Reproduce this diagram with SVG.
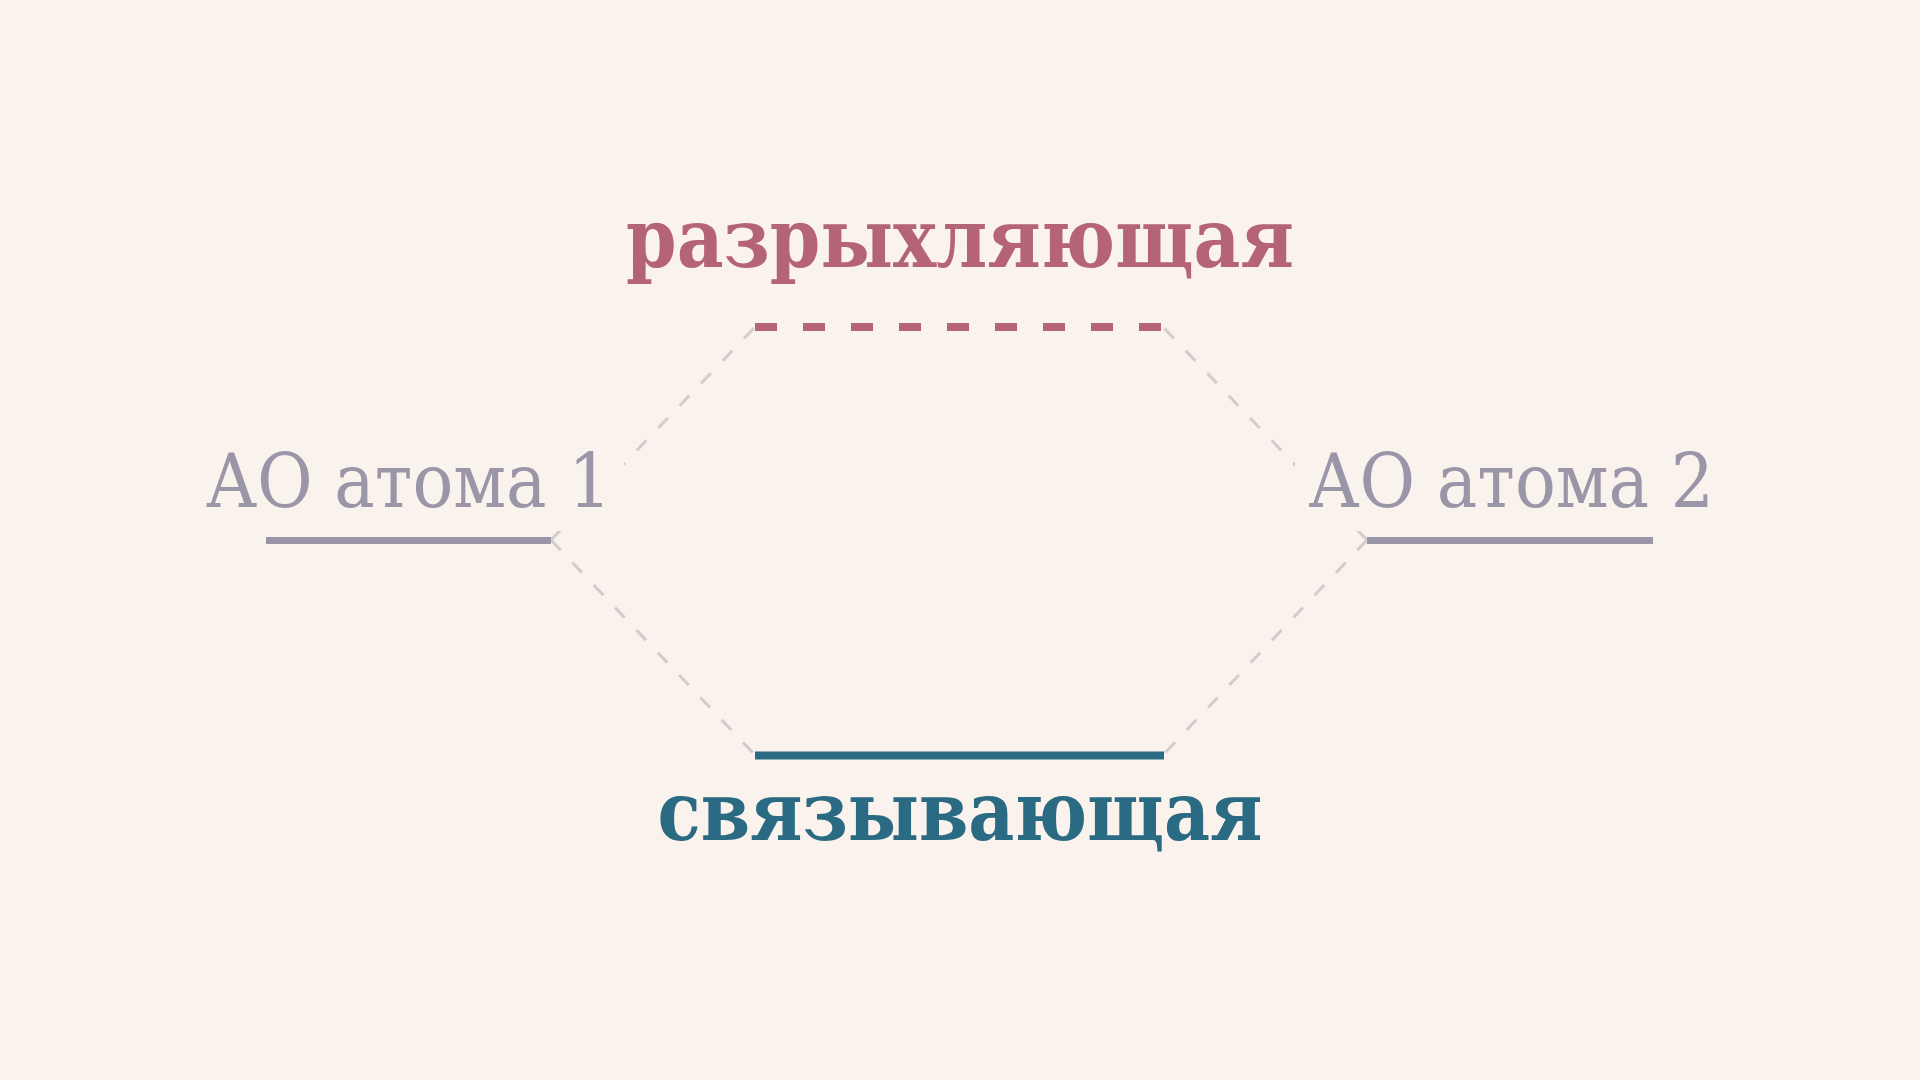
<svg xmlns="http://www.w3.org/2000/svg" width="1920" height="1080" viewBox="0 0 1920 1080">
<style>
.bg{fill:#faf3ed}
.conn{stroke:#d4cbcc;stroke-width:3;stroke-dasharray:14 17;fill:none}
.ao{stroke:#9a96a8;stroke-width:7}
.aotxt{font-family:'DejaVu Serif Condensed','DejaVu Serif',serif;font-stretch:condensed;font-size:75.5px;fill:#9a96a8;text-anchor:middle}
.motxt{font-family:'DejaVu Serif Condensed','DejaVu Serif',serif;font-stretch:condensed;font-weight:bold;font-size:83px;text-anchor:middle}
</style>
<rect class="bg" x="0" y="0" width="1920" height="1080"/>
<g id="connectors">
<line class="conn" x1="551" y1="540" x2="755" y2="327"/>
<line class="conn" x1="551" y1="540" x2="755" y2="755"/>
<line class="conn" x1="1367" y1="540" x2="1163" y2="327"/>
<line class="conn" x1="1367" y1="540" x2="1163" y2="755"/>
</g>
<g id="ao1">
<rect class="bg" x="192" y="445" width="432" height="86"/>
<text class="aotxt" x="408.5" y="507">АО атома 1</text>
<line class="ao" x1="266" y1="540.5" x2="551" y2="540.5"/>
</g>
<g id="ao2">
<rect class="bg" x="1295" y="445" width="432" height="86"/>
<text class="aotxt" x="1511" y="507">АО атома 2</text>
<line class="ao" x1="1367" y1="540.5" x2="1653" y2="540.5"/>
</g>
<g id="antibonding">
<text class="motxt" x="960" y="267" fill="#b56476" textLength="668" lengthAdjust="spacingAndGlyphs">разрыхляющая</text>
<line x1="755" y1="327" x2="1163" y2="327" stroke="#b56476" stroke-width="8" stroke-dasharray="22 26"/>
</g>
<g id="bonding">
<line x1="755" y1="755.5" x2="1164" y2="755.5" stroke="#2a6a82" stroke-width="8"/>
<text class="motxt" x="960" y="840" fill="#2a6a82" textLength="605" lengthAdjust="spacingAndGlyphs">связывающая</text>
</g>
</svg>
